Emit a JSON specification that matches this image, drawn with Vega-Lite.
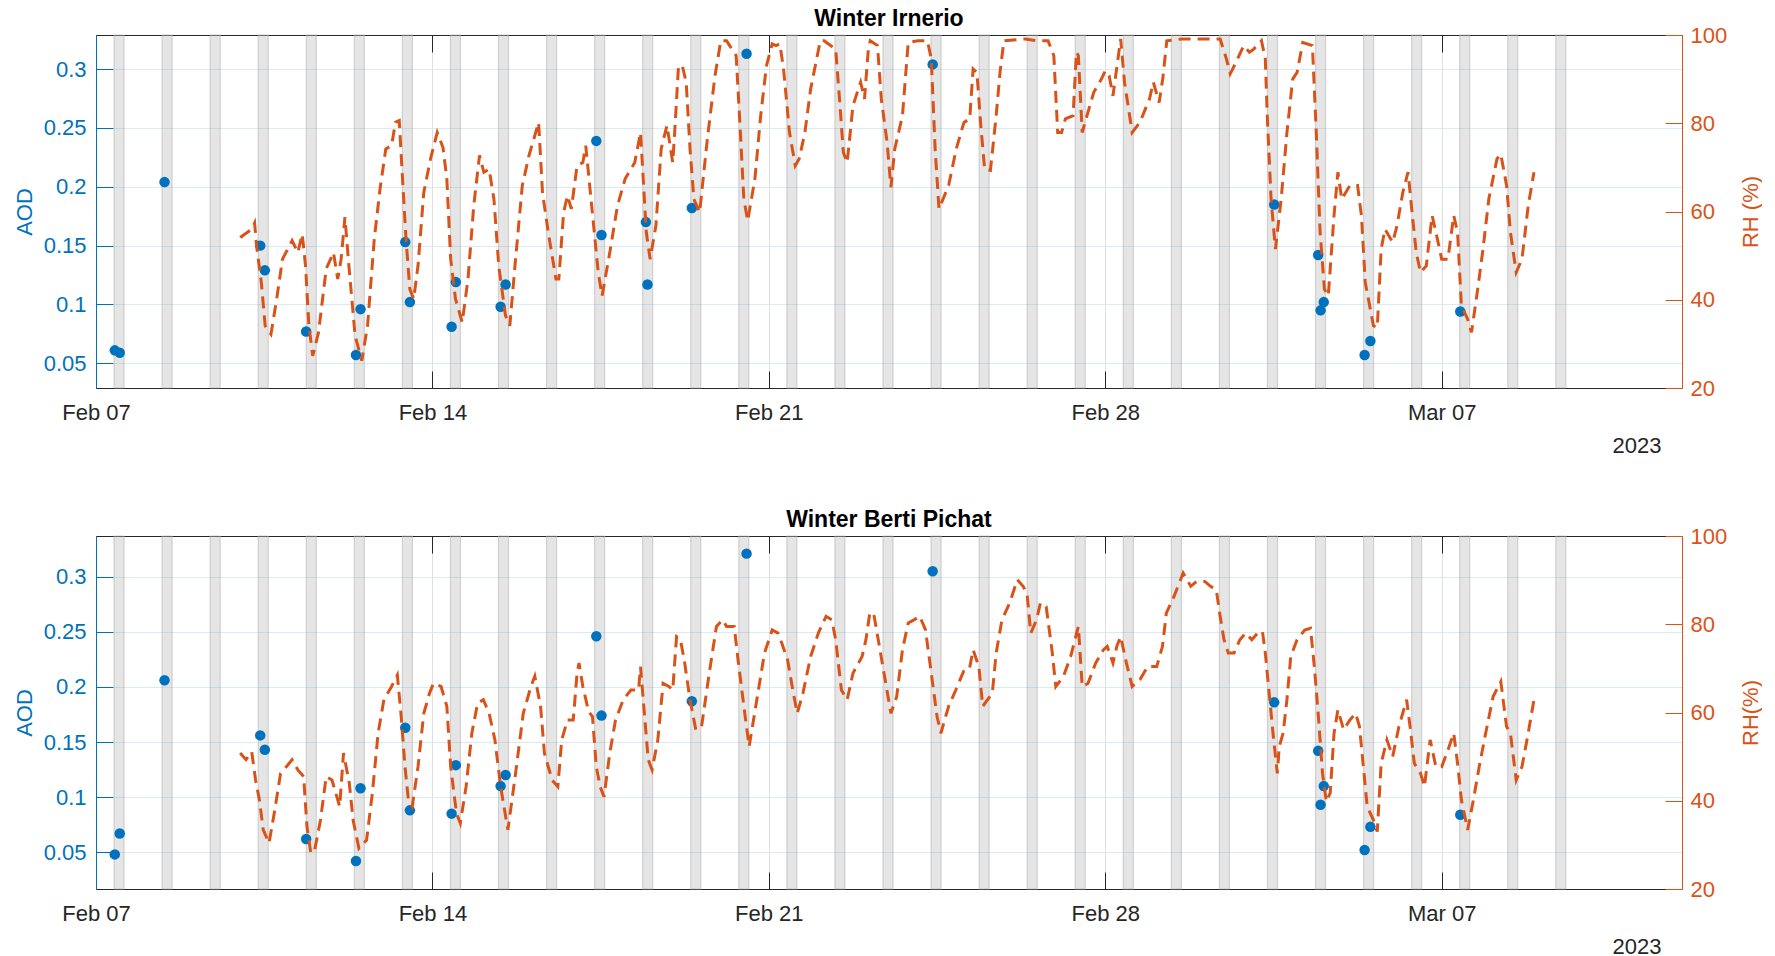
{
  "$schema": "https://vega.github.io/schema/vega-lite/v6.json",
  "autosize": {"type": "pad"},
  "padding": {"left": 13, "top": 8, "right": 0, "bottom": 0},
  "bounds": "flush",
  "spacing": 148,
  "config": {
    "view": {"stroke": null},
    "font": "Liberation Sans",
    "axis": {"labelFont": "Liberation Sans", "titleFont": "Liberation Sans", "labelFontSize": 22, "titleFontSize": 22, "titleFontWeight": "normal", "domainWidth": 1, "tickWidth": 1},
    "title": {"font": "Liberation Sans", "fontSize": 23, "fontWeight": "bold", "color": "#000000", "offset": -7, "baseline": "alphabetic"}
  },
  "datasets": {
    "bands": [
      {"s": "2023-02-07T09:00", "e": "2023-02-07T14:00"},
      {"s": "2023-02-08T09:00", "e": "2023-02-08T14:00"},
      {"s": "2023-02-09T09:00", "e": "2023-02-09T14:00"},
      {"s": "2023-02-10T09:00", "e": "2023-02-10T14:00"},
      {"s": "2023-02-11T09:00", "e": "2023-02-11T14:00"},
      {"s": "2023-02-12T09:00", "e": "2023-02-12T14:00"},
      {"s": "2023-02-13T09:00", "e": "2023-02-13T14:00"},
      {"s": "2023-02-14T09:00", "e": "2023-02-14T14:00"},
      {"s": "2023-02-15T09:00", "e": "2023-02-15T14:00"},
      {"s": "2023-02-16T09:00", "e": "2023-02-16T14:00"},
      {"s": "2023-02-17T09:00", "e": "2023-02-17T14:00"},
      {"s": "2023-02-18T09:00", "e": "2023-02-18T14:00"},
      {"s": "2023-02-19T09:00", "e": "2023-02-19T14:00"},
      {"s": "2023-02-20T09:00", "e": "2023-02-20T14:00"},
      {"s": "2023-02-21T09:00", "e": "2023-02-21T14:00"},
      {"s": "2023-02-22T09:00", "e": "2023-02-22T14:00"},
      {"s": "2023-02-23T09:00", "e": "2023-02-23T14:00"},
      {"s": "2023-02-24T09:00", "e": "2023-02-24T14:00"},
      {"s": "2023-02-25T09:00", "e": "2023-02-25T14:00"},
      {"s": "2023-02-26T09:00", "e": "2023-02-26T14:00"},
      {"s": "2023-02-27T09:00", "e": "2023-02-27T14:00"},
      {"s": "2023-02-28T09:00", "e": "2023-02-28T14:00"},
      {"s": "2023-03-01T09:00", "e": "2023-03-01T14:00"},
      {"s": "2023-03-02T09:00", "e": "2023-03-02T14:00"},
      {"s": "2023-03-03T09:00", "e": "2023-03-03T14:00"},
      {"s": "2023-03-04T09:00", "e": "2023-03-04T14:00"},
      {"s": "2023-03-05T09:00", "e": "2023-03-05T14:00"},
      {"s": "2023-03-06T09:00", "e": "2023-03-06T14:00"},
      {"s": "2023-03-07T09:00", "e": "2023-03-07T14:00"},
      {"s": "2023-03-08T09:00", "e": "2023-03-08T14:00"},
      {"s": "2023-03-09T09:00", "e": "2023-03-09T14:00"}
    ],
    "aod_irn": [
      {"t": "2023-02-07T09:23", "aod": 0.061},
      {"t": "2023-02-07T11:51", "aod": 0.059},
      {"t": "2023-02-08T10:13", "aod": 0.204},
      {"t": "2023-02-10T10:00", "aod": 0.150},
      {"t": "2023-02-10T12:19", "aod": 0.129},
      {"t": "2023-02-11T08:57", "aod": 0.077},
      {"t": "2023-02-12T09:49", "aod": 0.057},
      {"t": "2023-02-12T12:06", "aod": 0.096},
      {"t": "2023-02-13T10:26", "aod": 0.153},
      {"t": "2023-02-13T12:45", "aod": 0.102},
      {"t": "2023-02-14T09:35", "aod": 0.081},
      {"t": "2023-02-14T11:41", "aod": 0.119},
      {"t": "2023-02-15T10:03", "aod": 0.098},
      {"t": "2023-02-15T12:33", "aod": 0.117},
      {"t": "2023-02-17T09:50", "aod": 0.239},
      {"t": "2023-02-17T12:26", "aod": 0.159},
      {"t": "2023-02-18T10:36", "aod": 0.170},
      {"t": "2023-02-18T11:23", "aod": 0.117},
      {"t": "2023-02-19T09:32", "aod": 0.182},
      {"t": "2023-02-20T12:52", "aod": 0.313},
      {"t": "2023-02-24T09:48", "aod": 0.304},
      {"t": "2023-03-03T12:22", "aod": 0.185},
      {"t": "2023-03-04T10:19", "aod": 0.142},
      {"t": "2023-03-04T11:31", "aod": 0.095},
      {"t": "2023-03-04T13:06", "aod": 0.102},
      {"t": "2023-03-05T09:30", "aod": 0.057},
      {"t": "2023-03-05T12:23", "aod": 0.069},
      {"t": "2023-03-07T09:17", "aod": 0.094}
    ],
    "aod_ber": [
      {"t": "2023-02-07T09:23", "aod": 0.048},
      {"t": "2023-02-07T11:51", "aod": 0.067},
      {"t": "2023-02-08T10:13", "aod": 0.206},
      {"t": "2023-02-10T10:00", "aod": 0.156},
      {"t": "2023-02-10T12:19", "aod": 0.143},
      {"t": "2023-02-11T08:57", "aod": 0.062},
      {"t": "2023-02-12T09:49", "aod": 0.042},
      {"t": "2023-02-12T12:06", "aod": 0.108},
      {"t": "2023-02-13T10:26", "aod": 0.163},
      {"t": "2023-02-13T12:45", "aod": 0.088},
      {"t": "2023-02-14T09:35", "aod": 0.085},
      {"t": "2023-02-14T11:41", "aod": 0.129},
      {"t": "2023-02-15T10:03", "aod": 0.110},
      {"t": "2023-02-15T12:33", "aod": 0.120},
      {"t": "2023-02-17T09:50", "aod": 0.246},
      {"t": "2023-02-17T12:26", "aod": 0.174},
      {"t": "2023-02-19T09:32", "aod": 0.187},
      {"t": "2023-02-20T12:52", "aod": 0.321},
      {"t": "2023-02-24T09:48", "aod": 0.305},
      {"t": "2023-03-03T12:22", "aod": 0.186},
      {"t": "2023-03-04T10:19", "aod": 0.142},
      {"t": "2023-03-04T11:31", "aod": 0.093},
      {"t": "2023-03-04T13:06", "aod": 0.110},
      {"t": "2023-03-05T09:30", "aod": 0.052},
      {"t": "2023-03-05T12:23", "aod": 0.073},
      {"t": "2023-03-07T09:17", "aod": 0.084}
    ],
    "rh_irn": [
      {"t": "2023-02-10T00:00", "rh": 54.1}, {"t": "2023-02-10T05:46", "rh": 56.0}, {"t": "2023-02-10T07:12", "rh": 57.4}, {"t": "2023-02-10T08:10", "rh": 52.3}, {"t": "2023-02-10T10:34", "rh": 43.9}, {"t": "2023-02-10T12:29", "rh": 34.1}, {"t": "2023-02-10T15:22", "rh": 32.2}, {"t": "2023-02-10T18:14", "rh": 40.2}, {"t": "2023-02-10T21:07", "rh": 49.2},
      {"t": "2023-02-11T01:55", "rh": 53.4}, {"t": "2023-02-11T04:48", "rh": 50.7}, {"t": "2023-02-11T06:58", "rh": 54.9}, {"t": "2023-02-11T08:38", "rh": 47.7}, {"t": "2023-02-11T10:19", "rh": 34.1}, {"t": "2023-02-11T12:14", "rh": 27.3}, {"t": "2023-02-11T15:07", "rh": 32.6}, {"t": "2023-02-11T18:58", "rh": 47.0}, {"t": "2023-02-11T22:34", "rh": 50.7},
      {"t": "2023-02-12T00:43", "rh": 44.7}, {"t": "2023-02-12T02:24", "rh": 49.2}, {"t": "2023-02-12T04:19", "rh": 58.7}, {"t": "2023-02-12T06:00", "rh": 49.2}, {"t": "2023-02-12T09:22", "rh": 31.9}, {"t": "2023-02-12T12:43", "rh": 26.2}, {"t": "2023-02-12T15:36", "rh": 34.1}, {"t": "2023-02-12T18:58", "rh": 53.8}, {"t": "2023-02-12T21:50", "rh": 65.1},
      {"t": "2023-02-13T00:43", "rh": 74.2}, {"t": "2023-02-13T03:36", "rh": 74.9}, {"t": "2023-02-13T05:31", "rh": 80.2}, {"t": "2023-02-13T07:26", "rh": 80.6}, {"t": "2023-02-13T08:53", "rh": 68.9}, {"t": "2023-02-13T10:48", "rh": 53.8}, {"t": "2023-02-13T12:43", "rh": 42.4}, {"t": "2023-02-13T14:38", "rh": 40.2}, {"t": "2023-02-13T16:48", "rh": 47.7}, {"t": "2023-02-13T19:41", "rh": 64.3}, {"t": "2023-02-13T23:02", "rh": 71.9},
      {"t": "2023-02-14T02:24", "rh": 77.9}, {"t": "2023-02-14T05:17", "rh": 74.5}, {"t": "2023-02-14T07:12", "rh": 67.4}, {"t": "2023-02-14T09:07", "rh": 49.2}, {"t": "2023-02-14T11:31", "rh": 40.2}, {"t": "2023-02-14T14:53", "rh": 34.9}, {"t": "2023-02-14T17:46", "rh": 44.7}, {"t": "2023-02-14T20:38", "rh": 61.3}, {"t": "2023-02-14T23:31", "rh": 72.7},
      {"t": "2023-02-15T01:41", "rh": 68.9}, {"t": "2023-02-15T04:19", "rh": 69.6}, {"t": "2023-02-15T06:43", "rh": 62.8}, {"t": "2023-02-15T09:07", "rh": 47.7}, {"t": "2023-02-15T12:29", "rh": 36.4}, {"t": "2023-02-15T14:38", "rh": 34.1}, {"t": "2023-02-15T17:31", "rh": 49.2}, {"t": "2023-02-15T20:53", "rh": 65.9},
      {"t": "2023-02-16T00:14", "rh": 72.7}, {"t": "2023-02-16T05:02", "rh": 80.2}, {"t": "2023-02-16T06:58", "rh": 64.3}, {"t": "2023-02-16T09:50", "rh": 55.3}, {"t": "2023-02-16T13:41", "rh": 44.7}, {"t": "2023-02-16T15:07", "rh": 44.7}, {"t": "2023-02-16T17:31", "rh": 59.8}, {"t": "2023-02-16T19:26", "rh": 63.6}, {"t": "2023-02-16T21:22", "rh": 60.6},
      {"t": "2023-02-17T00:14", "rh": 70.4}, {"t": "2023-02-17T03:07", "rh": 71.1}, {"t": "2023-02-17T04:34", "rh": 74.9}, {"t": "2023-02-17T10:48", "rh": 46.2}, {"t": "2023-02-17T12:43", "rh": 40.9}, {"t": "2023-02-17T16:34", "rh": 50.7}, {"t": "2023-02-17T20:24", "rh": 61.3},
      {"t": "2023-02-18T00:14", "rh": 67.4}, {"t": "2023-02-18T05:02", "rh": 71.1}, {"t": "2023-02-18T07:55", "rh": 77.9}, {"t": "2023-02-18T08:53", "rh": 70.4}, {"t": "2023-02-18T10:48", "rh": 55.3}, {"t": "2023-02-18T12:43", "rh": 49.2}, {"t": "2023-02-18T15:36", "rh": 56.8}, {"t": "2023-02-18T18:14", "rh": 74.2}, {"t": "2023-02-18T21:07", "rh": 79.5},
      {"t": "2023-02-19T00:00", "rh": 71.1}, {"t": "2023-02-19T00:58", "rh": 77.9}, {"t": "2023-02-19T02:53", "rh": 93.0}, {"t": "2023-02-19T04:48", "rh": 93.0}, {"t": "2023-02-19T06:43", "rh": 89.3}, {"t": "2023-02-19T08:38", "rh": 74.2}, {"t": "2023-02-19T10:34", "rh": 62.8}, {"t": "2023-02-19T13:26", "rh": 59.8}, {"t": "2023-02-19T17:17", "rh": 76.4}, {"t": "2023-02-19T21:07", "rh": 90.8},
      {"t": "2023-02-20T00:00", "rh": 98.7}, {"t": "2023-02-20T02:53", "rh": 98.7}, {"t": "2023-02-20T07:41", "rh": 95.3}, {"t": "2023-02-20T09:36", "rh": 79.5}, {"t": "2023-02-20T11:31", "rh": 62.8}, {"t": "2023-02-20T13:26", "rh": 57.9}, {"t": "2023-02-20T17:02", "rh": 67.4}, {"t": "2023-02-20T19:55", "rh": 81.7}, {"t": "2023-02-20T22:48", "rh": 93.0},
      {"t": "2023-02-21T01:41", "rh": 98.0}, {"t": "2023-02-21T03:36", "rh": 97.6}, {"t": "2023-02-21T05:31", "rh": 98.0}, {"t": "2023-02-21T07:26", "rh": 91.9}, {"t": "2023-02-21T10:19", "rh": 77.9}, {"t": "2023-02-21T13:12", "rh": 70.4}, {"t": "2023-02-21T15:07", "rh": 71.9}, {"t": "2023-02-21T18:00", "rh": 77.9}, {"t": "2023-02-21T20:53", "rh": 87.8},
      {"t": "2023-02-22T01:41", "rh": 98.7}, {"t": "2023-02-22T03:36", "rh": 98.7}, {"t": "2023-02-22T09:22", "rh": 96.8}, {"t": "2023-02-22T11:17", "rh": 85.5}, {"t": "2023-02-22T13:12", "rh": 73.4}, {"t": "2023-02-22T15:07", "rh": 71.1}, {"t": "2023-02-22T18:00", "rh": 84.0}, {"t": "2023-02-22T21:50", "rh": 89.3}, {"t": "2023-02-22T23:46", "rh": 85.5},
      {"t": "2023-02-23T01:41", "rh": 96.8}, {"t": "2023-02-23T02:38", "rh": 98.7}, {"t": "2023-02-23T06:14", "rh": 97.6}, {"t": "2023-02-23T08:10", "rh": 85.5}, {"t": "2023-02-23T11:02", "rh": 75.7}, {"t": "2023-02-23T12:58", "rh": 65.5}, {"t": "2023-02-23T14:53", "rh": 74.2}, {"t": "2023-02-23T18:43", "rh": 81.7}, {"t": "2023-02-23T21:36", "rh": 98.3},
      {"t": "2023-02-24T02:24", "rh": 98.7}, {"t": "2023-02-24T07:12", "rh": 98.7}, {"t": "2023-02-24T09:07", "rh": 94.6}, {"t": "2023-02-24T11:02", "rh": 74.2}, {"t": "2023-02-24T12:58", "rh": 60.6}, {"t": "2023-02-24T17:46", "rh": 65.9}, {"t": "2023-02-24T21:36", "rh": 74.2},
      {"t": "2023-02-25T01:26", "rh": 80.2}, {"t": "2023-02-25T04:19", "rh": 81.0}, {"t": "2023-02-25T06:00", "rh": 92.3}, {"t": "2023-02-25T07:55", "rh": 91.5}, {"t": "2023-02-25T09:50", "rh": 79.5}, {"t": "2023-02-25T11:46", "rh": 69.6}, {"t": "2023-02-25T14:38", "rh": 69.3}, {"t": "2023-02-25T17:31", "rh": 81.7}, {"t": "2023-02-25T19:26", "rh": 91.5}, {"t": "2023-02-25T21:22", "rh": 98.7},
      {"t": "2023-02-26T07:55", "rh": 99.1}, {"t": "2023-02-26T13:41", "rh": 98.7}, {"t": "2023-02-26T19:26", "rh": 98.7}, {"t": "2023-02-26T22:19", "rh": 95.3},
      {"t": "2023-02-27T00:14", "rh": 77.9}, {"t": "2023-02-27T02:10", "rh": 77.9}, {"t": "2023-02-27T04:05", "rh": 81.0}, {"t": "2023-02-27T07:55", "rh": 81.7}, {"t": "2023-02-27T09:36", "rh": 96.1}, {"t": "2023-02-27T10:34", "rh": 95.3}, {"t": "2023-02-27T12:29", "rh": 77.9}, {"t": "2023-02-27T14:24", "rh": 81.0}, {"t": "2023-02-27T18:14", "rh": 87.0}, {"t": "2023-02-27T22:05", "rh": 90.0},
      {"t": "2023-02-28T00:00", "rh": 91.9}, {"t": "2023-02-28T01:55", "rh": 90.8}, {"t": "2023-02-28T03:50", "rh": 86.2}, {"t": "2023-02-28T07:41", "rh": 99.1}, {"t": "2023-02-28T09:36", "rh": 89.3}, {"t": "2023-02-28T13:26", "rh": 77.9}, {"t": "2023-02-28T17:17", "rh": 80.2}, {"t": "2023-02-28T22:05", "rh": 85.5},
      {"t": "2023-03-01T00:00", "rh": 89.3}, {"t": "2023-03-01T02:53", "rh": 84.7}, {"t": "2023-03-01T04:48", "rh": 90.4}, {"t": "2023-03-01T06:43", "rh": 98.7}, {"t": "2023-03-01T14:24", "rh": 99.1},
      {"t": "2023-03-02T00:00", "rh": 99.1}, {"t": "2023-03-02T09:22", "rh": 99.1}, {"t": "2023-03-02T12:29", "rh": 94.6}, {"t": "2023-03-02T14:24", "rh": 91.2}, {"t": "2023-03-02T17:17", "rh": 93.8}, {"t": "2023-03-02T21:07", "rh": 97.6},
      {"t": "2023-03-03T00:00", "rh": 96.1}, {"t": "2023-03-03T02:10", "rh": 96.8}, {"t": "2023-03-03T06:00", "rh": 98.7}, {"t": "2023-03-03T07:55", "rh": 94.6}, {"t": "2023-03-03T08:53", "rh": 81.7}, {"t": "2023-03-03T10:48", "rh": 62.8}, {"t": "2023-03-03T12:58", "rh": 51.5}, {"t": "2023-03-03T15:50", "rh": 62.8}, {"t": "2023-03-03T18:43", "rh": 77.9}, {"t": "2023-03-03T21:36", "rh": 90.0}, {"t": "2023-03-03T23:46", "rh": 91.5},
      {"t": "2023-03-04T02:38", "rh": 98.3}, {"t": "2023-03-04T07:26", "rh": 97.6}, {"t": "2023-03-04T09:22", "rh": 77.9}, {"t": "2023-03-04T11:17", "rh": 55.3}, {"t": "2023-03-04T13:26", "rh": 42.4}, {"t": "2023-03-04T15:22", "rh": 40.9}, {"t": "2023-03-04T18:14", "rh": 59.1}, {"t": "2023-03-04T20:10", "rh": 68.9}, {"t": "2023-03-04T22:05", "rh": 62.8},
      {"t": "2023-03-05T02:10", "rh": 65.9}, {"t": "2023-03-05T06:00", "rh": 65.9}, {"t": "2023-03-05T07:55", "rh": 59.1}, {"t": "2023-03-05T09:50", "rh": 43.9}, {"t": "2023-03-05T13:55", "rh": 34.1}, {"t": "2023-03-05T15:50", "rh": 33.7}, {"t": "2023-03-05T17:46", "rh": 51.5}, {"t": "2023-03-05T19:41", "rh": 56.0}, {"t": "2023-03-05T23:31", "rh": 53.0},
      {"t": "2023-03-06T01:41", "rh": 56.8}, {"t": "2023-03-06T04:34", "rh": 64.3}, {"t": "2023-03-06T07:12", "rh": 68.9}, {"t": "2023-03-06T09:22", "rh": 59.1}, {"t": "2023-03-06T11:17", "rh": 50.7}, {"t": "2023-03-06T13:26", "rh": 46.2}, {"t": "2023-03-06T16:19", "rh": 47.7}, {"t": "2023-03-06T19:12", "rh": 59.1}, {"t": "2023-03-06T21:07", "rh": 55.3},
      {"t": "2023-03-07T00:00", "rh": 49.2}, {"t": "2023-03-07T03:07", "rh": 49.2}, {"t": "2023-03-07T06:00", "rh": 59.1}, {"t": "2023-03-07T07:55", "rh": 55.3}, {"t": "2023-03-07T09:50", "rh": 38.7}, {"t": "2023-03-07T12:58", "rh": 35.6}, {"t": "2023-03-07T14:53", "rh": 32.6}, {"t": "2023-03-07T17:46", "rh": 41.7}, {"t": "2023-03-07T20:38", "rh": 51.5}, {"t": "2023-03-07T23:31", "rh": 62.8},
      {"t": "2023-03-08T03:36", "rh": 71.9}, {"t": "2023-03-08T05:31", "rh": 73.0}, {"t": "2023-03-08T08:24", "rh": 65.9}, {"t": "2023-03-08T10:19", "rh": 55.3}, {"t": "2023-03-08T13:12", "rh": 46.2}, {"t": "2023-03-08T16:05", "rh": 49.2}, {"t": "2023-03-08T19:12", "rh": 61.3}, {"t": "2023-03-08T22:05", "rh": 68.9}
    ],
    "rh_ber": [
      {"t": "2023-02-10T00:00", "rh": 50.8}, {"t": "2023-02-10T02:53", "rh": 49.3}, {"t": "2023-02-10T05:46", "rh": 51.1}, {"t": "2023-02-10T07:41", "rh": 44.7}, {"t": "2023-02-10T09:36", "rh": 40.2}, {"t": "2023-02-10T11:31", "rh": 33.4}, {"t": "2023-02-10T14:24", "rh": 30.4}, {"t": "2023-02-10T17:17", "rh": 37.9}, {"t": "2023-02-10T20:10", "rh": 46.2}, {"t": "2023-02-10T23:02", "rh": 47.7},
      {"t": "2023-02-11T01:55", "rh": 49.3}, {"t": "2023-02-11T04:48", "rh": 47.0}, {"t": "2023-02-11T07:41", "rh": 45.5}, {"t": "2023-02-11T09:22", "rh": 34.1}, {"t": "2023-02-11T11:17", "rh": 28.1}, {"t": "2023-02-11T13:12", "rh": 28.8}, {"t": "2023-02-11T16:05", "rh": 35.6}, {"t": "2023-02-11T18:58", "rh": 45.5}, {"t": "2023-02-11T21:50", "rh": 44.7},
      {"t": "2023-02-12T01:41", "rh": 38.7}, {"t": "2023-02-12T03:36", "rh": 50.8}, {"t": "2023-02-12T06:29", "rh": 44.0}, {"t": "2023-02-12T08:24", "rh": 35.6}, {"t": "2023-02-12T11:17", "rh": 29.2}, {"t": "2023-02-12T15:07", "rh": 31.1}, {"t": "2023-02-12T18:00", "rh": 41.7}, {"t": "2023-02-12T20:53", "rh": 55.3}, {"t": "2023-02-12T23:46", "rh": 62.9},
      {"t": "2023-02-13T03:36", "rh": 65.9}, {"t": "2023-02-13T06:29", "rh": 68.5}, {"t": "2023-02-13T08:24", "rh": 59.1}, {"t": "2023-02-13T10:19", "rh": 47.7}, {"t": "2023-02-13T12:00", "rh": 40.2}, {"t": "2023-02-13T13:55", "rh": 38.7}, {"t": "2023-02-13T16:48", "rh": 47.7}, {"t": "2023-02-13T19:41", "rh": 59.8}, {"t": "2023-02-13T22:34", "rh": 64.4},
      {"t": "2023-02-14T00:29", "rh": 66.6}, {"t": "2023-02-14T04:19", "rh": 65.9}, {"t": "2023-02-14T07:12", "rh": 61.4}, {"t": "2023-02-14T09:07", "rh": 47.7}, {"t": "2023-02-14T12:00", "rh": 37.2}, {"t": "2023-02-14T13:55", "rh": 34.9}, {"t": "2023-02-14T16:48", "rh": 43.2}, {"t": "2023-02-14T19:41", "rh": 55.3}, {"t": "2023-02-14T22:34", "rh": 62.1},
      {"t": "2023-02-15T01:26", "rh": 62.9}, {"t": "2023-02-15T04:19", "rh": 59.8}, {"t": "2023-02-15T07:12", "rh": 53.8}, {"t": "2023-02-15T10:05", "rh": 43.2}, {"t": "2023-02-15T13:41", "rh": 33.4}, {"t": "2023-02-15T17:31", "rh": 46.2}, {"t": "2023-02-15T21:22", "rh": 59.8},
      {"t": "2023-02-16T01:12", "rh": 65.9}, {"t": "2023-02-16T03:07", "rh": 68.2}, {"t": "2023-02-16T06:00", "rh": 61.4}, {"t": "2023-02-16T07:55", "rh": 50.8}, {"t": "2023-02-16T11:46", "rh": 44.7}, {"t": "2023-02-16T14:38", "rh": 43.2}, {"t": "2023-02-16T16:34", "rh": 53.8}, {"t": "2023-02-16T19:26", "rh": 58.3}, {"t": "2023-02-16T22:19", "rh": 58.3},
      {"t": "2023-02-17T00:14", "rh": 68.9}, {"t": "2023-02-17T01:12", "rh": 71.2}, {"t": "2023-02-17T03:07", "rh": 65.9}, {"t": "2023-02-17T06:00", "rh": 60.2}, {"t": "2023-02-17T07:55", "rh": 59.1}, {"t": "2023-02-17T09:50", "rh": 47.7}, {"t": "2023-02-17T11:46", "rh": 43.2}, {"t": "2023-02-17T13:41", "rh": 40.9}, {"t": "2023-02-17T16:34", "rh": 50.8}, {"t": "2023-02-17T19:26", "rh": 58.3}, {"t": "2023-02-17T23:17", "rh": 62.9},
      {"t": "2023-02-18T03:07", "rh": 65.1}, {"t": "2023-02-18T06:58", "rh": 65.1}, {"t": "2023-02-18T07:55", "rh": 70.4}, {"t": "2023-02-18T09:50", "rh": 59.8}, {"t": "2023-02-18T11:46", "rh": 49.3}, {"t": "2023-02-18T13:41", "rh": 47.0}, {"t": "2023-02-18T16:34", "rh": 53.8}, {"t": "2023-02-18T19:12", "rh": 66.6}, {"t": "2023-02-18T22:05", "rh": 65.9},
      {"t": "2023-02-19T00:00", "rh": 65.1}, {"t": "2023-02-19T01:55", "rh": 77.2}, {"t": "2023-02-19T03:50", "rh": 76.5}, {"t": "2023-02-19T05:46", "rh": 71.9}, {"t": "2023-02-19T08:38", "rh": 62.9}, {"t": "2023-02-19T11:31", "rh": 56.1}, {"t": "2023-02-19T14:24", "rh": 56.8}, {"t": "2023-02-19T18:14", "rh": 68.9}, {"t": "2023-02-19T21:50", "rh": 79.5},
      {"t": "2023-02-20T00:58", "rh": 81.0}, {"t": "2023-02-20T02:53", "rh": 79.5}, {"t": "2023-02-20T06:43", "rh": 79.5}, {"t": "2023-02-20T08:38", "rh": 71.9}, {"t": "2023-02-20T11:31", "rh": 61.4}, {"t": "2023-02-20T14:10", "rh": 52.3}, {"t": "2023-02-20T18:00", "rh": 62.9}, {"t": "2023-02-20T21:50", "rh": 73.5},
      {"t": "2023-02-21T01:41", "rh": 78.7}, {"t": "2023-02-21T04:34", "rh": 78.0}, {"t": "2023-02-21T06:29", "rh": 75.7}, {"t": "2023-02-21T09:22", "rh": 71.9}, {"t": "2023-02-21T12:14", "rh": 64.4}, {"t": "2023-02-21T14:10", "rh": 59.8}, {"t": "2023-02-21T17:02", "rh": 64.4}, {"t": "2023-02-21T20:53", "rh": 72.7},
      {"t": "2023-02-22T00:43", "rh": 78.0}, {"t": "2023-02-22T04:34", "rh": 81.8}, {"t": "2023-02-22T07:26", "rh": 81.0}, {"t": "2023-02-22T09:22", "rh": 76.5}, {"t": "2023-02-22T12:14", "rh": 65.1}, {"t": "2023-02-22T15:07", "rh": 62.9}, {"t": "2023-02-22T18:00", "rh": 68.9}, {"t": "2023-02-22T22:34", "rh": 72.7},
      {"t": "2023-02-23T00:29", "rh": 76.5}, {"t": "2023-02-23T02:24", "rh": 82.5}, {"t": "2023-02-23T04:19", "rh": 82.5}, {"t": "2023-02-23T07:12", "rh": 75.0}, {"t": "2023-02-23T10:05", "rh": 67.4}, {"t": "2023-02-23T12:58", "rh": 59.8}, {"t": "2023-02-23T15:50", "rh": 63.6}, {"t": "2023-02-23T18:43", "rh": 74.2}, {"t": "2023-02-23T21:36", "rh": 80.3},
      {"t": "2023-02-24T00:29", "rh": 81.0}, {"t": "2023-02-24T03:22", "rh": 81.8}, {"t": "2023-02-24T06:14", "rh": 78.7}, {"t": "2023-02-24T09:07", "rh": 68.9}, {"t": "2023-02-24T12:00", "rh": 59.1}, {"t": "2023-02-24T13:55", "rh": 55.3}, {"t": "2023-02-24T17:46", "rh": 61.4}, {"t": "2023-02-24T21:22", "rh": 65.1},
      {"t": "2023-02-25T01:12", "rh": 69.3}, {"t": "2023-02-25T04:05", "rh": 69.7}, {"t": "2023-02-25T06:00", "rh": 74.2}, {"t": "2023-02-25T08:53", "rh": 70.4}, {"t": "2023-02-25T10:48", "rh": 61.4}, {"t": "2023-02-25T15:36", "rh": 64.4}, {"t": "2023-02-25T17:31", "rh": 73.5}, {"t": "2023-02-25T20:24", "rh": 81.0},
      {"t": "2023-02-26T00:14", "rh": 84.8}, {"t": "2023-02-26T04:05", "rh": 90.1}, {"t": "2023-02-26T06:58", "rh": 88.6}, {"t": "2023-02-26T08:53", "rh": 87.1}, {"t": "2023-02-26T10:48", "rh": 78.0}, {"t": "2023-02-26T13:41", "rh": 81.0}, {"t": "2023-02-26T15:36", "rh": 84.8}, {"t": "2023-02-26T18:29", "rh": 84.0}, {"t": "2023-02-26T21:22", "rh": 74.2}, {"t": "2023-02-26T23:17", "rh": 65.9},
      {"t": "2023-02-27T03:07", "rh": 68.2}, {"t": "2023-02-27T06:43", "rh": 72.7}, {"t": "2023-02-27T10:34", "rh": 79.5}, {"t": "2023-02-27T12:29", "rh": 65.9}, {"t": "2023-02-27T15:22", "rh": 66.6}, {"t": "2023-02-27T19:12", "rh": 71.2}, {"t": "2023-02-27T23:02", "rh": 74.2},
      {"t": "2023-02-28T00:58", "rh": 75.0}, {"t": "2023-02-28T03:50", "rh": 71.2}, {"t": "2023-02-28T05:46", "rh": 75.0}, {"t": "2023-02-28T07:41", "rh": 77.2}, {"t": "2023-02-28T10:34", "rh": 71.2}, {"t": "2023-02-28T13:26", "rh": 65.9}, {"t": "2023-02-28T17:17", "rh": 67.4}, {"t": "2023-02-28T21:07", "rh": 70.4},
      {"t": "2023-03-01T01:41", "rh": 70.4}, {"t": "2023-03-01T04:34", "rh": 75.0}, {"t": "2023-03-01T06:29", "rh": 82.5}, {"t": "2023-03-01T10:19", "rh": 86.3}, {"t": "2023-03-01T14:53", "rh": 91.6}, {"t": "2023-03-01T18:43", "rh": 88.6}, {"t": "2023-03-01T21:36", "rh": 89.7},
      {"t": "2023-03-02T01:41", "rh": 89.7}, {"t": "2023-03-02T04:34", "rh": 88.6}, {"t": "2023-03-02T07:26", "rh": 87.8}, {"t": "2023-03-02T09:22", "rh": 81.8}, {"t": "2023-03-02T11:17", "rh": 76.5}, {"t": "2023-03-02T13:26", "rh": 73.5}, {"t": "2023-03-02T16:19", "rh": 73.5}, {"t": "2023-03-02T19:12", "rh": 76.5}, {"t": "2023-03-02T22:05", "rh": 78.0},
      {"t": "2023-03-03T01:12", "rh": 76.5}, {"t": "2023-03-03T04:05", "rh": 78.0}, {"t": "2023-03-03T06:29", "rh": 78.4}, {"t": "2023-03-03T07:55", "rh": 73.5}, {"t": "2023-03-03T09:50", "rh": 64.4}, {"t": "2023-03-03T11:46", "rh": 55.3}, {"t": "2023-03-03T13:55", "rh": 46.2}, {"t": "2023-03-03T14:53", "rh": 52.3}, {"t": "2023-03-03T16:48", "rh": 55.3}, {"t": "2023-03-03T18:43", "rh": 62.9}, {"t": "2023-03-03T20:38", "rh": 72.7}, {"t": "2023-03-03T23:46", "rh": 76.5},
      {"t": "2023-03-04T03:36", "rh": 78.7}, {"t": "2023-03-04T06:29", "rh": 79.1}, {"t": "2023-03-04T08:24", "rh": 70.4}, {"t": "2023-03-04T10:19", "rh": 59.8}, {"t": "2023-03-04T12:29", "rh": 46.2}, {"t": "2023-03-04T14:24", "rh": 39.8}, {"t": "2023-03-04T16:19", "rh": 41.7}, {"t": "2023-03-04T18:14", "rh": 55.3}, {"t": "2023-03-04T20:10", "rh": 60.6}, {"t": "2023-03-04T23:02", "rh": 56.1},
      {"t": "2023-03-05T02:10", "rh": 58.3}, {"t": "2023-03-05T05:02", "rh": 59.8}, {"t": "2023-03-05T06:58", "rh": 56.8}, {"t": "2023-03-05T08:53", "rh": 47.7}, {"t": "2023-03-05T10:48", "rh": 38.7}, {"t": "2023-03-05T13:55", "rh": 35.6}, {"t": "2023-03-05T15:50", "rh": 33.0}, {"t": "2023-03-05T17:46", "rh": 48.5}, {"t": "2023-03-05T20:38", "rh": 53.8}, {"t": "2023-03-05T23:31", "rh": 50.0},
      {"t": "2023-03-06T02:38", "rh": 56.8}, {"t": "2023-03-06T06:29", "rh": 62.9}, {"t": "2023-03-06T08:24", "rh": 56.1}, {"t": "2023-03-06T10:19", "rh": 48.5}, {"t": "2023-03-06T13:26", "rh": 46.2}, {"t": "2023-03-06T15:22", "rh": 43.2}, {"t": "2023-03-06T18:14", "rh": 53.8}, {"t": "2023-03-06T21:07", "rh": 47.7},
      {"t": "2023-03-07T00:00", "rh": 47.7}, {"t": "2023-03-07T03:07", "rh": 51.5}, {"t": "2023-03-07T06:00", "rh": 55.3}, {"t": "2023-03-07T07:55", "rh": 48.5}, {"t": "2023-03-07T09:50", "rh": 40.2}, {"t": "2023-03-07T12:58", "rh": 33.4}, {"t": "2023-03-07T15:50", "rh": 40.2}, {"t": "2023-03-07T18:43", "rh": 47.7}, {"t": "2023-03-07T21:36", "rh": 54.5},
      {"t": "2023-03-08T01:41", "rh": 63.6}, {"t": "2023-03-08T05:31", "rh": 67.0}, {"t": "2023-03-08T08:24", "rh": 56.8}, {"t": "2023-03-08T10:19", "rh": 55.3}, {"t": "2023-03-08T13:12", "rh": 44.7}, {"t": "2023-03-08T16:05", "rh": 47.7}, {"t": "2023-03-08T19:12", "rh": 55.3}, {"t": "2023-03-08T22:05", "rh": 62.9}
    ]
  },
  "vconcat": [
    {
      "width": 1586, "height": 353,
      "title": {"text": "Winter Irnerio"},
      "layer": [
        {
          "data": {"name": "bands"},
          "mark": {"type": "rect", "fill": "#a0a0a0", "fillOpacity": 0.28, "stroke": "#b4b4b4", "strokeWidth": 1.2, "strokeOpacity": 0.55},
          "encoding": {
            "x": {"field": "s", "type": "temporal",
              "scale": {"domain": [{"year": 2023, "month": 2, "date": 7}, {"year": 2023, "month": 3, "date": 12}]},
              "axis": {"orient": "top", "values": [{"year": 2023, "month": 2, "date": 7}, {"year": 2023, "month": 2, "date": 14}, {"year": 2023, "month": 2, "date": 21}, {"year": 2023, "month": 2, "date": 28}, {"year": 2023, "month": 3, "date": 7}], "labels": false, "title": null, "grid": false, "domainColor": "#262626", "tickColor": "#262626", "tickSize": -17}},
            "x2": {"field": "e"}
          }
        },
        {
          "data": {"name": "aod_irn"},
          "mark": {"type": "circle", "size": 110, "color": "#0072BD", "opacity": 1},
          "encoding": {
            "x": {"field": "t", "type": "temporal",
              "axis": {"orient": "bottom", "values": [{"year": 2023, "month": 2, "date": 7}, {"year": 2023, "month": 2, "date": 14}, {"year": 2023, "month": 2, "date": 21}, {"year": 2023, "month": 2, "date": 28}, {"year": 2023, "month": 3, "date": 7}], "format": "%b %d", "labelFlush": false, "labelColor": "#262626", "labelBaseline": "alphabetic", "labelPadding": 48, "domainColor": "#262626", "tickColor": "#262626", "tickSize": -17, "grid": true, "gridColor": "#dfdfdf", "title": "2023", "titleColor": "#262626", "titleAlign": "right", "titleAnchor": "end", "titleBaseline": "alphabetic", "titleX": 1565, "titleY": 64}},
            "y": {"field": "aod", "type": "quantitative",
              "scale": {"domain": [0.029, 0.329], "nice": false, "zero": false},
              "axis": {"orient": "left", "values": [0.05, 0.1, 0.15, 0.2, 0.25, 0.3], "format": ".2~f", "title": "AOD", "titleColor": "#0072BD", "labelColor": "#0072BD", "domainColor": "#0072BD", "tickColor": "#0072BD", "tickSize": -17, "labelPadding": 27, "titlePadding": 7, "grid": true, "gridColor": "#d9eaf5"}}
          }
        },
        {
          "data": {"name": "rh_irn"},
          "mark": {"type": "line", "color": "#D95319", "strokeWidth": 3, "strokeDash": [12, 7]},
          "encoding": {
            "x": {"field": "t", "type": "temporal", "axis": null},
            "y": {"field": "rh", "type": "quantitative",
              "scale": {"domain": [20, 100], "nice": false, "zero": false},
              "axis": {"orient": "right", "values": [20, 40, 60, 80, 100], "title": "RH (%)", "titleColor": "#D95319", "labelColor": "#D95319", "domainColor": "#D95319", "tickColor": "#D95319", "tickSize": -17, "labelPadding": 25, "titlePadding": 14, "titleAngle": 270, "titleBaseline": "top", "grid": false}}
          }
        }
      ],
      "resolve": {"scale": {"y": "independent"}, "axis": {"x": "independent"}}
    },
    {
      "width": 1586, "height": 353,
      "title": {"text": "Winter Berti Pichat"},
      "layer": [
        {
          "data": {"name": "bands"},
          "mark": {"type": "rect", "fill": "#a0a0a0", "fillOpacity": 0.28, "stroke": "#b4b4b4", "strokeWidth": 1.2, "strokeOpacity": 0.55},
          "encoding": {
            "x": {"field": "s", "type": "temporal",
              "scale": {"domain": [{"year": 2023, "month": 2, "date": 7}, {"year": 2023, "month": 3, "date": 12}]},
              "axis": {"orient": "top", "values": [{"year": 2023, "month": 2, "date": 7}, {"year": 2023, "month": 2, "date": 14}, {"year": 2023, "month": 2, "date": 21}, {"year": 2023, "month": 2, "date": 28}, {"year": 2023, "month": 3, "date": 7}], "labels": false, "title": null, "grid": false, "domainColor": "#262626", "tickColor": "#262626", "tickSize": -17}},
            "x2": {"field": "e"}
          }
        },
        {
          "data": {"name": "aod_ber"},
          "mark": {"type": "circle", "size": 110, "color": "#0072BD", "opacity": 1},
          "encoding": {
            "x": {"field": "t", "type": "temporal",
              "axis": {"orient": "bottom", "values": [{"year": 2023, "month": 2, "date": 7}, {"year": 2023, "month": 2, "date": 14}, {"year": 2023, "month": 2, "date": 21}, {"year": 2023, "month": 2, "date": 28}, {"year": 2023, "month": 3, "date": 7}], "format": "%b %d", "labelFlush": false, "labelColor": "#262626", "labelBaseline": "alphabetic", "labelPadding": 48, "domainColor": "#262626", "tickColor": "#262626", "tickSize": -17, "grid": true, "gridColor": "#dfdfdf", "title": "2023", "titleColor": "#262626", "titleAlign": "right", "titleAnchor": "end", "titleBaseline": "alphabetic", "titleX": 1565, "titleY": 64}},
            "y": {"field": "aod", "type": "quantitative",
              "scale": {"domain": [0.0166, 0.337], "nice": false, "zero": false},
              "axis": {"orient": "left", "values": [0.05, 0.1, 0.15, 0.2, 0.25, 0.3], "format": ".2~f", "title": "AOD", "titleColor": "#0072BD", "labelColor": "#0072BD", "domainColor": "#0072BD", "tickColor": "#0072BD", "tickSize": -17, "labelPadding": 27, "titlePadding": 7, "grid": true, "gridColor": "#d9eaf5"}}
          }
        },
        {
          "data": {"name": "rh_ber"},
          "mark": {"type": "line", "color": "#D95319", "strokeWidth": 3, "strokeDash": [12, 7]},
          "encoding": {
            "x": {"field": "t", "type": "temporal", "axis": null},
            "y": {"field": "rh", "type": "quantitative",
              "scale": {"domain": [20, 100], "nice": false, "zero": false},
              "axis": {"orient": "right", "values": [20, 40, 60, 80, 100], "title": "RH(%)", "titleColor": "#D95319", "labelColor": "#D95319", "domainColor": "#D95319", "tickColor": "#D95319", "tickSize": -17, "labelPadding": 25, "titlePadding": 14, "titleAngle": 270, "titleBaseline": "top", "grid": false}}
          }
        }
      ],
      "resolve": {"scale": {"y": "independent"}, "axis": {"x": "independent"}}
    }
  ]
}
